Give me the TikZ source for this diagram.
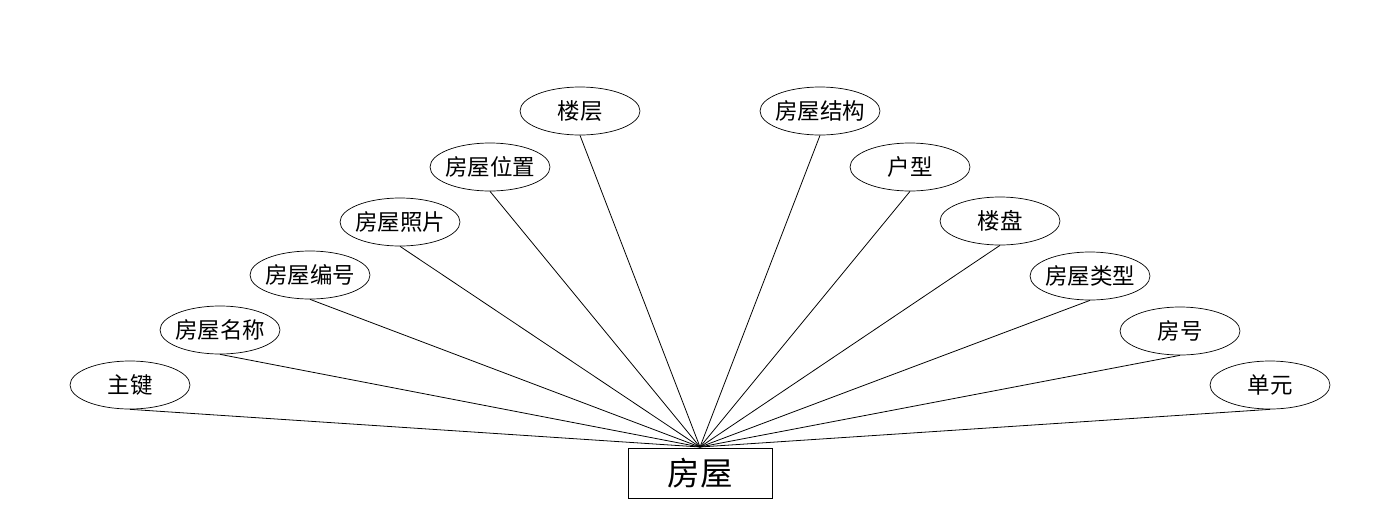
\documentclass[tikz,border=0pt]{standalone}
\usepackage{fontspec}
\setmainfont{Noto Sans CJK SC}
\usetikzlibrary{shapes.geometric}

\begin{document}
\begin{tikzpicture}[
    x=0.02cm, y=-0.02cm,
    attr/.style={draw, ellipse, inner xsep=-0.5cm, inner ysep=0pt, minimum width=2.4cm, minimum height=0.96cm, font=\fontsize{12.8}{14}\selectfont},
    entity/.style={draw, rectangle, inner sep=0pt, minimum width=2.88cm, minimum height=1.0cm, font=\fontsize{18.5}{20}\selectfont},
    link/.style={black, line width=0.45pt}
]
\useasboundingbox (0,0) rectangle (1400,528);
\node[entity] (house) at (700,473) {房屋};
\coordinate (hub) at (700,447);
% left side
\node[attr] (key) at (130,385) {主键};
\node[attr] (name) at (220,330) {房屋名称};
\node[attr] (code) at (310,275) {房屋编号};
\node[attr] (photo) at (400,222) {房屋照片};
\node[attr] (place) at (490,167) {房屋位置};
\node[attr] (floor) at (580,111) {楼层};
% right side
\node[attr] (struct) at (820,111) {房屋结构};
\node[attr] (layout) at (910,167) {户型};
\node[attr] (estate) at (1000,221) {楼盘};
\node[attr] (kind) at (1090,276) {房屋类型};
\node[attr] (number) at (1180,331) {房号};
\node[attr] (unit) at (1270,385) {单元};
\foreach \a in {key,name,code,photo,place,floor,struct,layout,estate,kind,number,unit}
    \draw[link] (\a.south) -- (hub);
\end{tikzpicture}
\end{document}
